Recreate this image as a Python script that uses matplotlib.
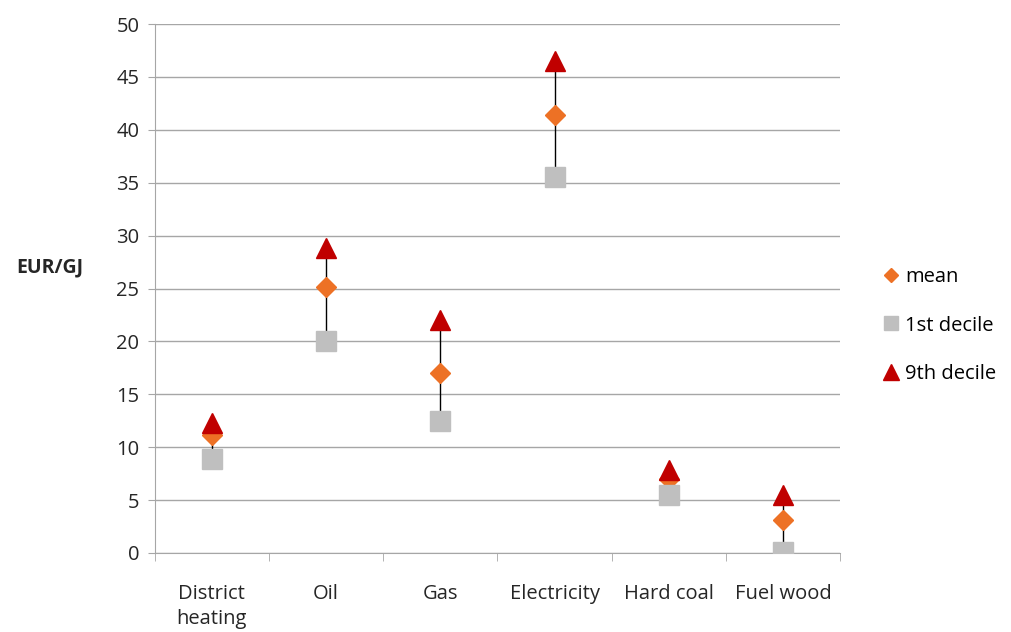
import numpy as np
import matplotlib
matplotlib.use('Agg')
import matplotlib.pyplot as plt

plt.rcParams['font.family'] = ['Open Sans', 'DejaVu Sans']

categories = ['District\nheating', 'Oil', 'Gas', 'Electricity', 'Hard coal', 'Fuel wood']
mean = [11.2, 25.1, 17.0, 41.4, 7.0, 3.1]
decile1 = [8.9, 20.0, 12.5, 35.5, 5.5, 0.1]
decile9 = [12.3, 28.8, 22.0, 46.5, 7.8, 5.5]

fig = plt.figure(figsize=(10.11, 6.32), dpi=100)
ax = fig.add_axes([0.153, 0.125, 0.678, 0.837])

x = np.arange(len(categories))

# hi-lo lines
ax.vlines(x, decile1, decile9, color='black', lw=1, zorder=2)

ax.plot(x, mean, linestyle='none', marker='D', ms=10, color='#ed7125', label='mean', zorder=3)
ax.plot(x, decile1, linestyle='none', marker='s', ms=14, color='#bfbfbf', label='1st decile', zorder=4)
ax.plot(x, decile9, linestyle='none', marker='^', ms=15, color='#c00000', label='9th decile', zorder=5)

ax.set_xlim(-0.5, len(categories) - 0.5)
ax.set_ylim(0, 50)
ax.set_yticks(range(0, 51, 5))
ax.yaxis.grid(True, color='#a6a6a6', lw=1)
ax.set_axisbelow(True)

ax.set_xticks(x)
ax.set_xticklabels(categories, fontsize=14.5, color='#262626', linespacing=1.35)
ax.set_xticks(np.arange(-0.5, len(categories)), minor=True)
ax.tick_params(axis='x', which='major', length=0, pad=22)
ax.tick_params(axis='x', which='minor', length=6, color='#a6a6a6')
ax.tick_params(axis='y', length=5, color='#a6a6a6', labelsize=14.5, labelcolor='#262626', pad=6)

for s in ['top', 'right']:
    ax.spines[s].set_visible(False)
ax.spines['left'].set_color('#a6a6a6')
ax.spines['bottom'].set_color('#a6a6a6')

ax.set_ylabel('EUR/GJ', rotation=0, fontsize=14, fontweight='bold', color='#262626')
ax.yaxis.set_label_coords(-0.153, 0.52)

ax.legend(loc='center left', bbox_to_anchor=(1.03, 0.43), frameon=False, fontsize=14.5,
          handletextpad=0.1, labelspacing=1.4, handlelength=1.2, markerscale=0.75)

fig.savefig('out.png', dpi=100)
